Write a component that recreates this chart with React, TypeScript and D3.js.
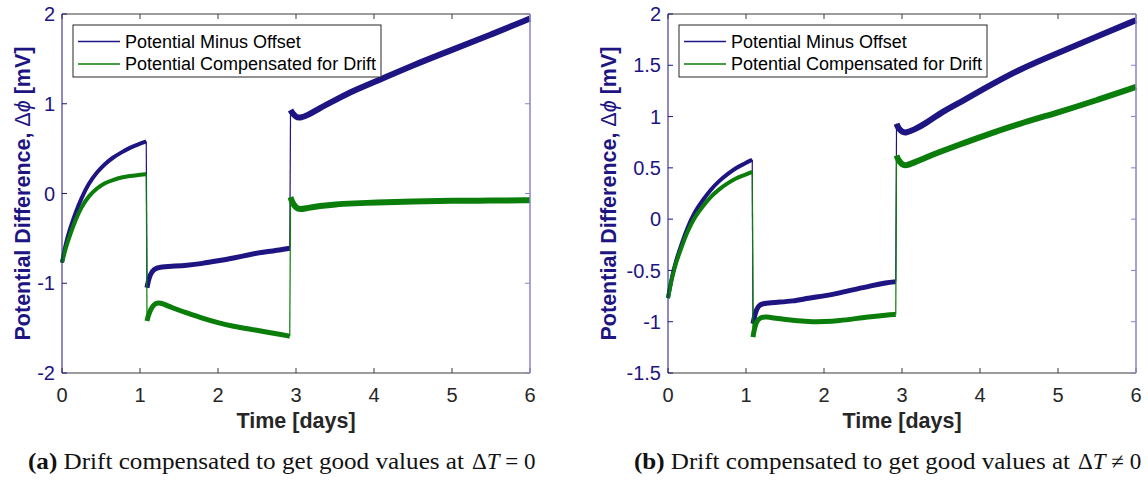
import React from "react";
import * as d3 from "d3";

// ---------- data ----------
const timeSeg1 = [0, 0.05, 0.1, 0.17, 0.25, 0.34, 0.45, 0.55, 0.65, 0.765, 0.87, 0.98, 1.08];
const timeSeg2 = [1.09, 1.1, 1.13, 1.18, 1.25, 1.4, 1.6, 1.8, 2.0, 2.2, 2.4, 2.6, 2.8, 2.92];
const timeSeg3 = [2.93, 2.95, 3.0, 3.05, 3.15, 3.3, 3.5, 3.75, 4.0, 4.5, 5.0, 5.5, 6.0];

// Panel (a)
const aMinusOffset1 = [-0.77, -0.55, -0.4, -0.22, -0.05, 0.11, 0.24, 0.33, 0.4, 0.46, 0.51, 0.55, 0.58];
const aMinusOffset2 = [-1.05, -1.0, -0.9, -0.84, -0.82, -0.81, -0.8, -0.78, -0.75, -0.72, -0.68, -0.65, -0.63, -0.61];
const aMinusOffset3 = [0.93, 0.9, 0.85, 0.84, 0.87, 0.95, 1.04, 1.15, 1.24, 1.43, 1.6, 1.77, 1.95];
const aCompensated1 = [-0.77, -0.6, -0.47, -0.3, -0.15, -0.03, 0.06, 0.12, 0.15, 0.18, 0.195, 0.205, 0.215];
const aCompensated2 = [-1.42, -1.38, -1.3, -1.23, -1.21, -1.27, -1.33, -1.39, -1.44, -1.48, -1.51, -1.54, -1.57, -1.59];
const aCompensated3 = [-0.04, -0.1, -0.16, -0.18, -0.16, -0.14, -0.12, -0.11, -0.1, -0.09, -0.08, -0.08, -0.075];

// Panel (b)
const bMinusOffset1 = [-0.77, -0.56, -0.41, -0.25, -0.08, 0.07, 0.19, 0.29, 0.37, 0.44, 0.5, 0.54, 0.58];
const bMinusOffset2 = [-1.02, -0.98, -0.88, -0.83, -0.82, -0.81, -0.8, -0.77, -0.75, -0.72, -0.685, -0.65, -0.62, -0.61];
const bMinusOffset3 = [0.93, 0.89, 0.85, 0.84, 0.87, 0.93, 1.04, 1.14, 1.25, 1.46, 1.62, 1.78, 1.94];
const bCompensated1 = [-0.77, -0.57, -0.43, -0.28, -0.12, 0.02, 0.13, 0.22, 0.29, 0.35, 0.4, 0.43, 0.46];
const bCompensated2 = [-1.15, -1.1, -1.0, -0.96, -0.95, -0.97, -0.985, -1.0, -1.0, -0.99, -0.97, -0.95, -0.935, -0.93];
const bCompensated3 = [0.62, 0.58, 0.53, 0.52, 0.55, 0.6, 0.66, 0.73, 0.8, 0.93, 1.04, 1.16, 1.29];

const xTicks = [0, 1, 2, 3, 4, 5, 6];
const aYTicks = [-2, -1, 0, 1, 2];
const bYTicks = [-1.5, -1, -0.5, 0, 0.5, 1, 1.5, 2];
const legendLabels = ["Potential Minus Offset", "Potential Compensated for Drift"];

// ---------- styles ----------
const BLUE = "#1e1482";
const GREEN = "#0a7d0a";
const RIGHT_AXIS = "#8a84c8";
const GRAY = "#3a3a3a";
const SANS = "'Liberation Sans', Arial, Helvetica, sans-serif";
const SERIF = "'Liberation Serif', 'Times New Roman', serif";

type Seg = { t: number[]; v: number[] };

function Panel(props: {
  x0: number;
  x1: number;
  yTop: number;
  yBot: number;
  yDomain: [number, number];
  yTicks: number[];
  blue: Seg[];
  green: Seg[];
  yLabelX: number;
  legendX: number;
}) {
  const { x0, x1, yTop, yBot, yDomain, yTicks, blue, green, yLabelX, legendX } = props;
  const x = d3.scaleLinear().domain([0, 6]).range([x0, x1]);
  const y = d3.scaleLinear().domain(yDomain).range([yBot, yTop]);
  const line = d3
    .line<[number, number]>()
    .x((d) => x(d[0]))
    .y((d) => y(d[1]))
    .curve(d3.curveBasis);
  const straight = d3
    .line<[number, number]>()
    .x((d) => x(d[0]))
    .y((d) => y(d[1]));
  const pts = (s: Seg) => s.t.map((t, i) => [t, s.v[i]] as [number, number]);
  const widths = [4, 5, 6];
  const tickLen = 5;

  const series = [
    { segs: blue, color: BLUE },
    { segs: green, color: GREEN },
  ];

  return (
    <g>
      {series.map((s, si) => (
        <g key={si}>
          {s.segs.slice(0, -1).map((seg, k) => {
            const a = pts(seg);
            const b = pts(s.segs[k + 1]);
            return (
              <path
                key={"j" + k}
                d={straight([a[a.length - 1], b[0]]) || ""}
                fill="none"
                stroke={s.color}
                strokeWidth={1.2}
              />
            );
          })}
          {s.segs.map((seg, k) => (
            <path
              key={k}
              d={line(pts(seg)) || ""}
              fill="none"
              stroke={s.color}
              strokeWidth={widths[k]}
              strokeLinejoin="round"
            />
          ))}
        </g>
      ))}

      <line x1={x0} x2={x1} y1={yBot} y2={yBot} stroke={GRAY} strokeWidth={1} />
      <line x1={x0} x2={x1} y1={yTop} y2={yTop} stroke={GRAY} strokeWidth={1} />
      {xTicks.map((t) => (
        <g key={t}>
          <line x1={x(t)} x2={x(t)} y1={yBot} y2={yBot - tickLen} stroke={GRAY} />
          <line x1={x(t)} x2={x(t)} y1={yTop} y2={yTop + tickLen} stroke={GRAY} />
          <text
            x={x(t)}
            y={yBot + 29}
            textAnchor="middle"
            fontFamily={SANS}
            fontSize={20}
            fill="#262626"
          >
            {t}
          </text>
        </g>
      ))}
      <line x1={x0} x2={x0} y1={yTop} y2={yBot} stroke={BLUE} strokeWidth={1} />
      <line x1={x1} x2={x1} y1={yTop} y2={yBot} stroke={RIGHT_AXIS} strokeWidth={1.5} />
      {yTicks.map((v) => (
        <g key={v}>
          <line x1={x0} x2={x0 + tickLen} y1={y(v)} y2={y(v)} stroke={BLUE} />
          <line x1={x1} x2={x1 - tickLen} y1={y(v)} y2={y(v)} stroke={RIGHT_AXIS} />
          <text
            x={x0 - 7}
            y={y(v)}
            dy="0.36em"
            textAnchor="end"
            fontFamily={SANS}
            fontSize={20}
            fill={BLUE}
          >
            {String(v)}
          </text>
        </g>
      ))}

      <text
        x={(x0 + x1) / 2}
        y={yBot + 55}
        textAnchor="middle"
        fontFamily={SANS}
        fontWeight="bold"
        fontSize={21.5}
        fill="#262626"
      >
        Time [days]
      </text>
      <text
        transform={`translate(${yLabelX},${(yTop + yBot) / 2}) rotate(-90)`}
        textAnchor="middle"
        fontFamily={SANS}
        fontSize={21.5}
        fill={BLUE}
      >
        <tspan fontWeight="bold">Potential Difference, </tspan>
        <tspan>Δ</tspan>
        <tspan fontStyle="italic">ϕ</tspan>
        <tspan fontWeight="bold"> [mV]</tspan>
      </text>

      <rect
        x={legendX}
        y={25}
        width={308}
        height={52}
        fill="white"
        stroke="#262626"
        strokeWidth={1}
      />
      {legendLabels.map((lab, i) => (
        <g key={lab}>
          <line
            x1={legendX + 5}
            x2={legendX + 47}
            y1={41.5 + i * 22.5}
            y2={41.5 + i * 22.5}
            stroke={i === 0 ? BLUE : GREEN}
            strokeWidth={1.5}
          />
          <text
            x={legendX + 52}
            y={41.5 + i * 22.5}
            dy="0.36em"
            fontFamily={SANS}
            fontSize={18}
            fill="#000"
          >
            {lab}
          </text>
        </g>
      ))}
    </g>
  );
}

function Caption(props: { x: number; label: string; mathX: number; rel: string; len: number }) {
  const { x, label, mathX, rel, len } = props;
  return (
    <g fontFamily={SERIF} fontSize={23} fill="#111">
      <text x={x} y={469} textLength={len} lengthAdjust="spacingAndGlyphs">
        <tspan fontWeight="bold">{label}</tspan>
        <tspan> Drift compensated to get good values at</tspan>
      </text>
      <text x={mathX} y={469}>
        <tspan>Δ</tspan>
        <tspan fontStyle="italic">T</tspan>
        <tspan> {rel} 0</tspan>
      </text>
    </g>
  );
}

export default function App() {
  const aBlue: Seg[] = [
    { t: timeSeg1, v: aMinusOffset1 },
    { t: timeSeg2, v: aMinusOffset2 },
    { t: timeSeg3, v: aMinusOffset3 },
  ];
  const aGreen: Seg[] = [
    { t: timeSeg1, v: aCompensated1 },
    { t: timeSeg2, v: aCompensated2 },
    { t: timeSeg3, v: aCompensated3 },
  ];
  const bBlue: Seg[] = [
    { t: timeSeg1, v: bMinusOffset1 },
    { t: timeSeg2, v: bMinusOffset2 },
    { t: timeSeg3, v: bMinusOffset3 },
  ];
  const bGreen: Seg[] = [
    { t: timeSeg1, v: bCompensated1 },
    { t: timeSeg2, v: bCompensated2 },
    { t: timeSeg3, v: bCompensated3 },
  ];
  return (
    <svg
      width={1148}
      height={480}
      style={{ position: "absolute", left: 0, top: 0, background: "white" }}
    >
      <rect width={1148} height={480} fill="white" />
      <Panel
        x0={62}
        x1={530}
        yTop={14}
        yBot={373}
        yDomain={[-2, 2]}
        yTicks={aYTicks}
        blue={aBlue}
        green={aGreen}
        yLabelX={30}
        legendX={73}
      />
      <Panel
        x0={668}
        x1={1136}
        yTop={14}
        yBot={373}
        yDomain={[-1.5, 2]}
        yTicks={bYTicks}
        blue={bBlue}
        green={bGreen}
        yLabelX={616}
        legendX={679}
      />
      <Caption x={28} label="(a)" mathX={472} rel="=" len={436} />
      <Caption x={634} label="(b)" mathX={1078} rel="≠" len={436} />
    </svg>
  );
}
